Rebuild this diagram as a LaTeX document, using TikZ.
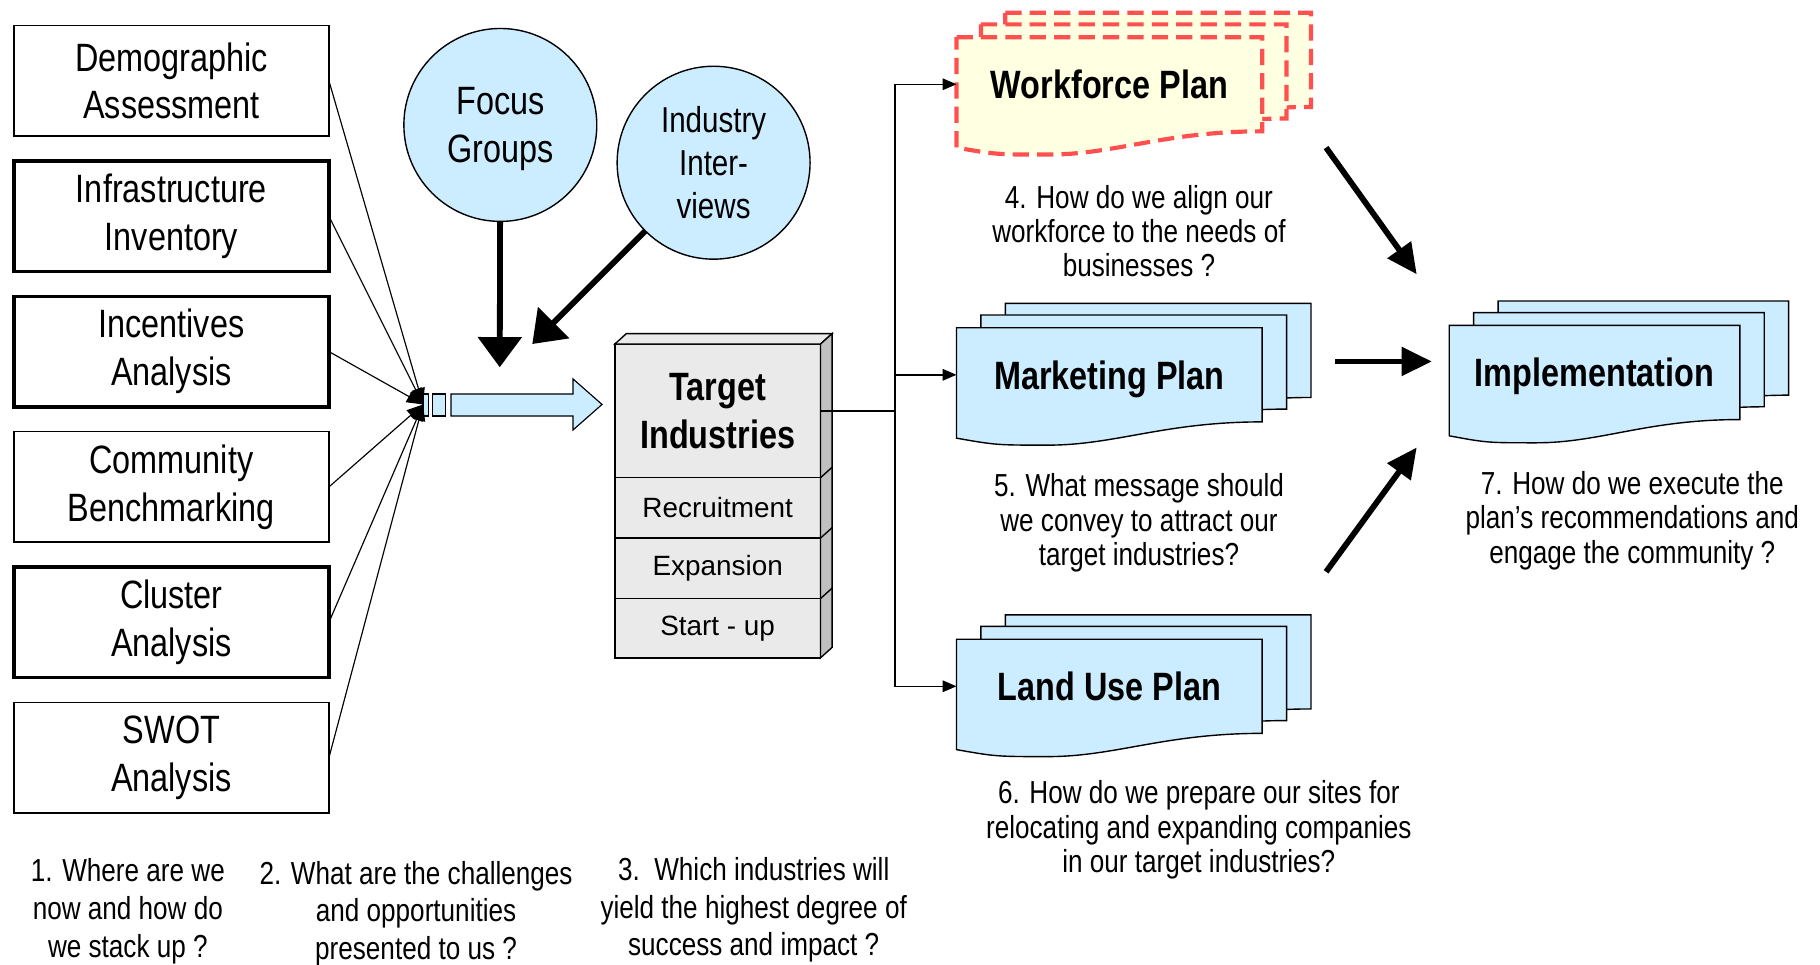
\documentclass[tikz,border=0pt]{standalone}
\usepackage{fontspec}
\setmainfont{Liberation Sans}
\newfontfamily\narrowfont{Liberation Sans}[FakeStretch=0.82]
\usetikzlibrary{arrows.meta,calc}
\definecolor{lblue}{HTML}{CCECFF}
\definecolor{tigray}{HTML}{EAEAEA}
\definecolor{tiside}{HTML}{C0C0C0}
\definecolor{wfred}{HTML}{FF5050}
\definecolor{wfyellow}{HTML}{FFFFE1}
\newcommand\docpage[4]{%
  \pgfmathsetmacro\dxa{#1+#3}%
  \pgfmathsetmacro\dyb{#2+81}%
  \pgfmathsetmacro\dca{#1+0.68*#3}%
  \pgfmathsetmacro\dcb{#1+0.52*#3}%
  \pgfmathsetmacro\dlx{#1+0.3*#3}%
  \pgfmathsetmacro\dly{#2+101}%
  \pgfmathsetmacro\dcc{#1+0.13*#3}%
  \pgfmathsetmacro\dlb{#2+95}%
  \draw[#4] (#1,#2) -- (\dxa,#2) -- (\dxa,\dyb) .. controls (\dca,\dyb) and (\dcb,\dly) .. (\dlx,\dly) .. controls (\dcc,\dly) .. (#1,\dlb) -- cycle;}
\newcommand\docstack[4]{%
  \docpage{#1+42}{#2-21}{#3}{#4}%
  \docpage{#1+21}{#2-11}{#3}{#4}%
  \docpage{#1}{#2}{#3}{#4}}
\begin{document}
\begin{tikzpicture}[x=0.5pt,y=-0.5pt,
  every node/.style={inner sep=0pt, outer sep=0pt},
  lbox/.style={draw, line width=0.6pt, minimum width=135.5pt, minimum height=47.5pt, align=center, font=\narrowfont\fontsize{17}{20.5}\selectfont},
  lboxthick/.style={lbox, line width=1.6pt},
  bubble/.style={circle, draw, line width=0.6pt, fill=lblue, minimum size=83pt, align=center},
  feed/.style={line width=0.5pt, -{Triangle[length=7pt,width=5.5pt]}},
  bigarrow/.style={line width=2.5pt, -{Triangle[length=13pt,width=18.5pt]}},
  implarrow/.style={line width=2.5pt, -{Triangle[length=13pt,width=12pt]}},
  link/.style={line width=0.6pt, -{Triangle[length=6pt,width=5pt]}},
  question/.style={align=center, font=\narrowfont\fontsize{13.7}{14.75}\selectfont},
  bquestion/.style={align=center, font=\narrowfont\fontsize{13.7}{16.2}\selectfont},
  plantitle/.style={minimum width=131.5pt, minimum height=40.5pt, text height=12.4pt, text depth=0pt, font=\narrowfont\bfseries\fontsize{17}{20}\selectfont},
  tiface/.style={draw, line width=0.6pt, fill=tigray, minimum width=88.5pt, align=center},
  stripe/.style={draw, line width=0.5pt, fill=lblue},
  plaindoc/.style={draw, line width=0.6pt, fill=lblue},
  wfdoc/.style={draw=wfred, line width=1.8pt, dash pattern=on 7pt off 3.5pt, fill=wfyellow},
]
\fill[white] (0,0) rectangle (1566,829.5);
\useasboundingbox (0,0) rectangle (1566,829.5);

% left boxes
\node[lbox] (demo) at (147.5,69.5) {Demographic\\Assessment};
\node[lboxthick] (infra) at (147.5,186) {Infrastructure\\Inventory};
\node[lboxthick] (incent) at (147.5,302.5) {Incentives\\Analysis};
\node[lbox] (comm) at (147.5,419) {Community\\Benchmarking};
\node[lboxthick] (clus) at (147.5,535.5) {Cluster\\Analysis};
\node[lbox] (swot) at (147.5,652) {SWOT\\Analysis};

% striped arrow
\coordinate (conv) at (364,348);
\draw[stripe] (364,339) rectangle (369,358);
\draw[stripe] (372,339) rectangle (383,358);
\draw[stripe] (388,339) -- (493,339) -- (493,326) -- (518,348) -- (493,370) -- (493,358) -- (388,358) -- cycle;

\foreach \n in {demo,infra,incent,comm,clus,swot} \draw[feed] (\n.east) -- (conv);

% bubbles
\node[bubble, text depth=0pt, font=\narrowfont\fontsize{17}{20.5}\selectfont] (fg) at (430.5,107.5) {Focus\\Groups};
\node[bubble, font=\narrowfont\fontsize{15.5}{18.5}\selectfont] (iv) at (614,140) {Industry\\Inter-\\views};
\coordinate (fgEnd) at (430,316);
\coordinate (ivEnd) at (458,296);
\draw[bigarrow] (fg) -- (fgEnd);
\draw[bigarrow] (iv) -- (ivEnd);

% target industries
\node[tiface, minimum height=57.5pt, font=\narrowfont\bfseries\fontsize{17}{20.5}\selectfont] (ti) at (617.5,353.5) {Target\\Industries};
\node[tiface, minimum height=26pt, font=\fontsize{12}{14}\selectfont] (rec) at (617.5,437) {Recruitment};
\node[tiface, minimum height=26pt, font=\fontsize{12}{14}\selectfont] (exp) at (617.5,489) {Expansion};
\node[tiface, minimum height=25.5pt, font=\fontsize{12}{14}\selectfont] (st) at (617.5,540.5) {Start - up};
\draw[line width=0.6pt, fill=tigray] (ti.north west) -- ++(10,-9) -- ($(ti.north east)+(10,-9)$) -- (ti.north east) -- cycle;
\draw[line width=0.6pt, fill=tiside] (ti.north east) -- ++(10,-9) -- ($(st.south east)+(10,-9)$) -- (st.south east) -- cycle;
\foreach \n in {rec,exp,st} \draw[line width=0.6pt] (\n.north east) -- ++(10,-9);

% plan documents
\docstack{823}{32}{263}{wfdoc}
\docstack{823}{282}{263}{plaindoc}
\docstack{823}{550}{263}{plaindoc}
\docstack{1247}{280}{250}{plaindoc}
\node[plantitle] (wf) at (954.5,72.5) {Workforce Plan};
\node[plantitle] (mk) at (954.5,322.5) {Marketing Plan};
\node[plantitle] (lu) at (954.5,590.5) {Land Use Plan};
\node[plantitle, minimum width=125pt] (impl) at (1372,320.5) {Implementation};

% connectors to plans
\coordinate (bus) at (770,353.5);
\draw[line width=0.6pt] (ti.east) -- (bus);
\draw[link] (bus) |- (wf.west);
\draw[link] (bus) |- (mk.west);
\draw[link] (bus) |- (lu.west);

% arrows to implementation
\coordinate (a1s) at (1141,127);
\coordinate (a1e) at (1219,236);
\coordinate (a2s) at (1149,311);
\coordinate (a2e) at (1232,311);
\coordinate (a3s) at (1141,492);
\coordinate (a3e) at (1219,385);
\draw[implarrow] (a1s) -- (a1e);
\draw[implarrow] (a2s) -- (a2e);
\draw[implarrow] (a3s) -- (a3e);

% questions
\node[question] (q4) at (980,199) {4. How do we align our\\workforce to the needs of\\businesses ?};
\node[question] (q5) at (980,450) {5. What message should\\we convey to attract our\\target industries?};
\node[question] (q6) at (1031.5,714) {6. How do we prepare our sites for\\relocating and expanding companies\\in our target industries?};
\node[question] (q7) at (1404.5,448) {7. How do we execute the\\plan’s recommendations and\\engage the community ?};
\node[bquestion] (q1) at (110,784) {1. Where are we\\now and how do\\we stack up ?};
\node[bquestion] (q2) at (358,786) {2. What are the challenges\\and opportunities\\presented to us ?};
\node[bquestion] (q3) at (648.5,783) {3.\ \ Which industries will\\yield the highest degree of\\success and impact ?};
\end{tikzpicture}
\end{document}
